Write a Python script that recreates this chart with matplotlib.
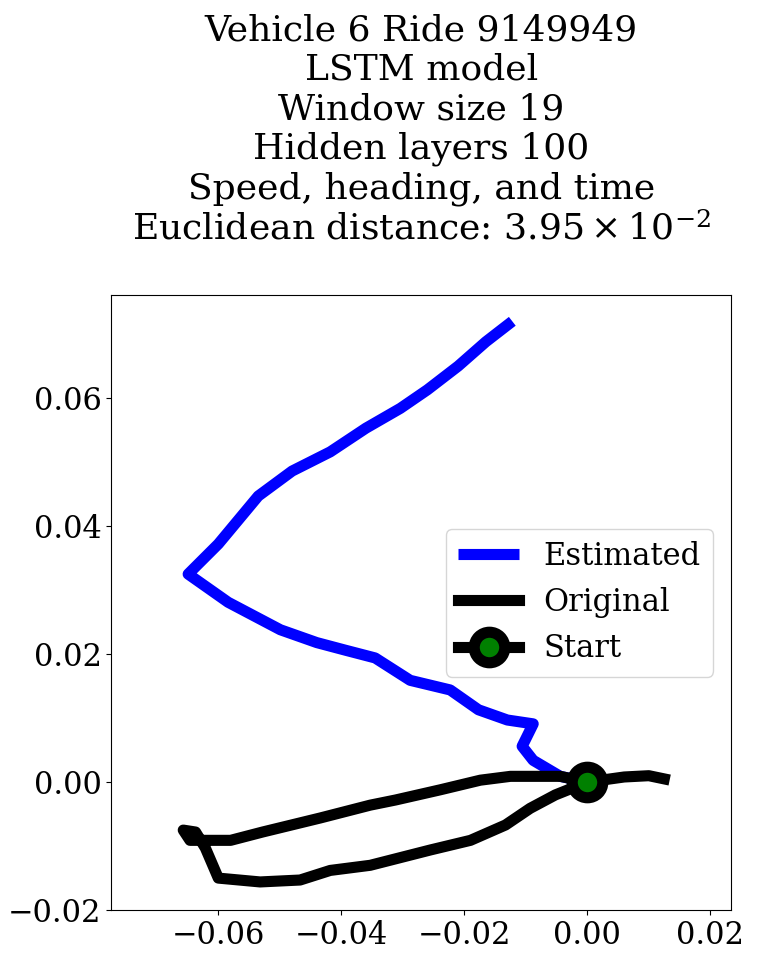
import matplotlib.pyplot as plt

plt.rcParams["font.family"] = "DejaVu Serif"
plt.rcParams["mathtext.fontset"] = "dejavuserif"

est_x = [-0.0122, -0.0165, -0.0210, -0.0260, -0.0304, -0.0360, -0.0418, -0.0480,
         -0.0535, -0.0600, -0.0649, -0.0584, -0.0499, -0.0440, -0.0393, -0.0345,
         -0.0288, -0.0223, -0.0177, -0.0130, -0.0088, -0.0106, -0.0088, -0.0044, 0.0]
est_y = [0.0720, 0.0688, 0.0650, 0.0613, 0.0584, 0.0553, 0.0516, 0.0486,
         0.0447, 0.0372, 0.0325, 0.0281, 0.0238, 0.0218, 0.0206, 0.0194,
         0.0159, 0.0144, 0.0113, 0.0097, 0.0091, 0.0056, 0.0034, 0.0009, 0.0]

orig_x = [0.0125, 0.0100, 0.0060, 0.0, -0.0044, -0.0125, -0.0174, -0.0239, -0.0312,
          -0.0353, -0.0434, -0.0528, -0.0580, -0.0646, -0.0657, -0.0637, -0.0621,
          -0.0600, -0.0532, -0.0467, -0.0418, -0.0353, -0.0255, -0.0190, -0.0133,
          -0.0093, -0.0052, 0.0]
orig_y = [0.0005, 0.0010, 0.0008, 0.0, 0.0009, 0.0009, 0.0003, -0.0012, -0.0028,
          -0.0036, -0.0056, -0.0078, -0.0091, -0.0091, -0.0075, -0.0078, -0.0103,
          -0.0150, -0.0156, -0.0153, -0.0138, -0.0130, -0.0106, -0.0091, -0.0067,
          -0.0041, -0.0020, 0.0]

title = ("Vehicle 6 Ride 9149949\nLSTM model\nWindow size 19\nHidden layers 100\n"
         "Speed, heading, and time\nEuclidean distance: $3.95\\times10^{-2}$")

fig, ax = plt.subplots(figsize=(7.57, 9.58), dpi=100)
fig.subplots_adjust(left=0.147, right=0.966, top=0.692, bottom=0.05)

ax.plot(est_x, est_y, color="blue", lw=8, label="Estimated", solid_capstyle="butt")
ax.plot(orig_x, orig_y, color="black", lw=8, label="Original")
ax.plot([0], [0], color="black", lw=8, marker="o", markersize=22,
        markerfacecolor="green", markeredgecolor="black", markeredgewidth=8,
        label="Start")

ax.set_xlim(-0.0774, 0.0234)
ax.set_ylim(-0.020, 0.0761)
ax.set_xticks([-0.06, -0.04, -0.02, 0.00, 0.02])
ax.set_yticks([-0.02, 0.00, 0.02, 0.04, 0.06])
ax.tick_params(labelsize=22)
ax.set_title(title, fontsize=26, pad=40)
ax.legend(fontsize=22, loc="center right", bbox_to_anchor=(0.995, 0.5))

fig.savefig("out.png", dpi=100)
